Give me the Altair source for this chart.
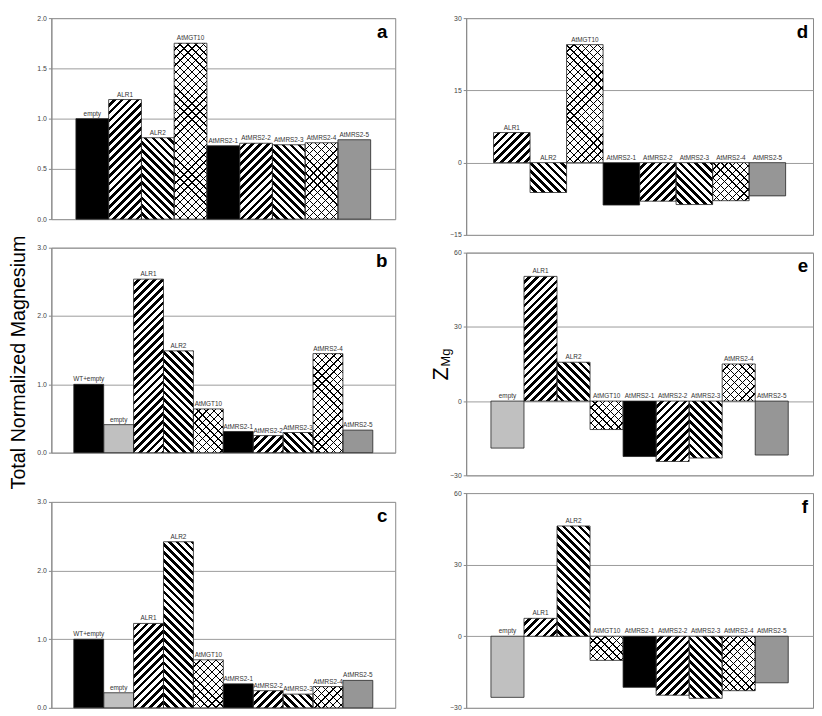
import altair as alt
import pandas as pd

# ---------------- data ----------------
names_a = ["empty", "ALR1", "ALR2", "AtMGT10", "AtMRS2-1", "AtMRS2-2", "AtMRS2-3", "AtMRS2-4", "AtMRS2-5"]
vals_a = [1.00, 1.19, 0.81, 1.75, 0.73, 0.755, 0.74, 0.76, 0.79]

names_b = ["WT+empty", "empty", "ALR1", "ALR2", "AtMGT10", "AtMRS2-1", "AtMRS2-2", "AtMRS2-3", "AtMRS2-4", "AtMRS2-5"]
vals_b = [1.00, 0.41, 2.54, 1.49, 0.64, 0.31, 0.25, 0.295, 1.45, 0.33]

names_c = ["WT+empty", "empty", "ALR1", "ALR2", "AtMGT10", "AtMRS2-1", "AtMRS2-2", "AtMRS2-3", "AtMRS2-4", "AtMRS2-5"]
vals_c = [1.00, 0.22, 1.23, 2.42, 0.70, 0.35, 0.25, 0.20, 0.31, 0.40]

names_d = ["ALR1", "ALR2", "AtMGT10", "AtMRS2-1", "AtMRS2-2", "AtMRS2-3", "AtMRS2-4", "AtMRS2-5"]
vals_d = [6.25, -6.2, 24.5, -8.8, -8.0, -8.7, -7.9, -6.9]

names_e = ["empty", "ALR1", "ALR2", "AtMGT10", "AtMRS2-1", "AtMRS2-2", "AtMRS2-3", "AtMRS2-4", "AtMRS2-5"]
vals_e = [-19.0, 50.4, 15.7, -11.5, -22.4, -24.4, -23.0, 15.0, -21.8]

names_f = ["empty", "ALR1", "ALR2", "AtMGT10", "AtMRS2-1", "AtMRS2-2", "AtMRS2-3", "AtMRS2-4", "AtMRS2-5"]
vals_f = [-25.6, 7.5, 46.2, -10.1, -21.4, -24.7, -26.0, -22.8, -19.5]

ticks_a = [0, 0.5, 1.0, 1.5, 2.0]
ticks_bc = [0, 1.0, 2.0, 3.0]
ticks_d = [-15, 0, 15, 30]
ticks_ef = [-30, 0, 30, 60]

# ---------------- styling ----------------
FONT = "Liberation Sans"
LEFT_W = 349
RIGHT_W = 352
PATTERN = {
    "WT+empty": "black", "empty": "light", "ALR1": "fwd", "ALR2": "back",
    "AtMGT10": "cross", "AtMRS2-1": "black", "AtMRS2-2": "fwd",
    "AtMRS2-3": "back", "AtMRS2-4": "cross", "AtMRS2-5": "dark",
}
SOLID = {"black": "#000000", "light": "#c0c0c0", "dark": "#969696"}
CLEAR = "rgba(0,0,0,0)"

_gid = [0]


def hatch(w, h, direction, period, fg_frac, bg, fg):
    """Linear gradient with hard stops giving 45-degree stripes for a w x h px box."""
    L = w + h
    stops = []
    k = 0
    while True:
        s0 = k * period
        s1 = s0 + period * (1 - fg_frac)
        s2 = s0 + period
        for off, col in ((s0, bg), (s1, bg), (s1, fg), (s2, fg)):
            stops.append({"offset": round(min(off / L, 1.0), 5), "color": col})
        if s2 >= L:
            break
        k += 1
    kk = L / (w * w + h * h)
    if direction == "fwd":
        x1, y1, x2, y2 = 0, 0, kk * w, kk * h
    else:
        x1, y1, x2, y2 = 0, 1, kk * w, 1 - kk * h
    _gid[0] += 1
    return {"gradient": "linear", "id": f"hatch{_gid[0]}", "x1": x1, "y1": y1,
            "x2": x2, "y2": y2, "stops": stops}


def panel(letter, names, vals, width, height, domain, ticks, fmt, letter_dx, zlabel=False):
    n = len(names)
    df = pd.DataFrame({"i": list(range(n)), "name": names, "v": vals})
    bw = width / (n + 1.5)
    ppu = height / (domain[1] - domain[0])
    xenc = alt.X("i:O", scale=alt.Scale(domain=list(range(n)), paddingInner=0, paddingOuter=0.75), axis=None)
    yscale = alt.Scale(domain=domain, nice=False, zero=True)
    yaxis = alt.Axis(values=ticks, format=fmt, title=None, grid=True, gridColor="#9a9a9a",
                     gridWidth=1, domainColor="#888888", tickColor="#888888", tickSize=3,
                     labelFontSize=7, labelColor="#444444", labelFont=FONT, labelPadding=2)
    yenc = alt.Y("v:Q", scale=yscale, axis=yaxis)
    base = alt.Chart(df)
    fills, overlays = [], []
    for k, (nm, v) in enumerate(zip(names, vals)):
        pat = PATTERN[nm]
        if letter == "a" and nm == "empty":
            pat = "black"
        w = bw
        h = max(abs(v) * ppu, 1.0)
        sel = base.transform_filter(alt.datum.i == k)
        if pat in SOLID:
            fills.append(sel.mark_bar(color=SOLID[pat]).encode(x=xenc, y=yenc))
        elif pat in ("fwd", "back"):
            g = hatch(w, h, pat, 8.0, 0.47, "#ffffff", "#000000")
            fills.append(sel.mark_bar(color=g).encode(x=xenc, y=yenc))
        else:
            g1 = hatch(w, h, "fwd", 8.0, 0.17, "#ffffff", "#000000")
            g2 = hatch(w, h, "back", 8.0, 0.17, CLEAR, "#000000")
            fills.append(sel.mark_bar(color=g1).encode(x=xenc, y=yenc))
            overlays.append(sel.mark_bar(color=g2).encode(x=xenc, y=yenc))
    outline = base.mark_bar(fillOpacity=0, stroke="#222222", strokeWidth=0.8).encode(x=xenc, y=yenc)
    labels = base.transform_calculate(ly="max(datum.v, 0)").mark_text(
        fontSize=6.5, font=FONT, color="#333333", dy=-3, baseline="alphabetic"
    ).encode(x=xenc, y=alt.Y("ly:Q", scale=yscale, axis=yaxis), text="name:N")
    tag = alt.Chart(pd.DataFrame({"t": [letter]})).mark_text(
        align="right", baseline="alphabetic", fontSize=19, fontWeight="bold", font=FONT, color="black"
    ).encode(x=alt.value(width - letter_dx), y=alt.value(20), text="t:N")
    layers = fills + overlays + [outline, labels, tag]
    if zlabel:
        zdf = pd.DataFrame({"t": ["Z"]})
        mdf = pd.DataFrame({"t": ["Mg"]})
        layers.append(alt.Chart(zdf).mark_text(
            angle=270, align="center", baseline="alphabetic", fontSize=22, font=FONT, color="black"
        ).encode(x=alt.value(-18.7), y=alt.value(123), text="t:N"))
        layers.append(alt.Chart(mdf).mark_text(
            angle=270, align="center", baseline="alphabetic", fontSize=13, font=FONT, color="black"
        ).encode(x=alt.value(-16.4), y=alt.value(106.5), text="t:N"))
    return alt.layer(*layers).properties(width=width, height=height)


pa = panel("a", names_a, vals_a, LEFT_W, 204, [0, 2], ticks_a, ".1f", 8)
pb = panel("b", names_b, vals_b, LEFT_W, 208, [0, 3], ticks_bc, ".1f", 8)
pc = panel("c", names_c, vals_c, LEFT_W, 209, [0, 3], ticks_bc, ".1f", 8)
pd_ = panel("d", names_d, vals_d, RIGHT_W, 220, [-15, 30], ticks_d, "d", 5)
pe = panel("e", names_e, vals_e, RIGHT_W, 226, [-30, 60], ticks_ef, "d", 5, zlabel=True)
pf = panel("f", names_f, vals_f, RIGHT_W, 218, [-30, 60], ticks_ef, "d", 5)

left = alt.vconcat(
    alt.vconcat(pa, pb, spacing=20),
    pc,
    spacing=41,
    title=alt.TitleParams(text="Total Normalized Magnesium", orient="left", anchor="middle",
                          fontSize=20, fontWeight="normal", font=FONT, color="black", offset=8),
)
right = alt.vconcat(pd_, pe, pf, spacing=9)

chart = alt.hconcat(left, right, spacing=33).properties(padding=0).configure_view(
    stroke="#888888", strokeWidth=1
)

chart.save("out.html", embed_options={"renderer": "svg", "actions": False})
